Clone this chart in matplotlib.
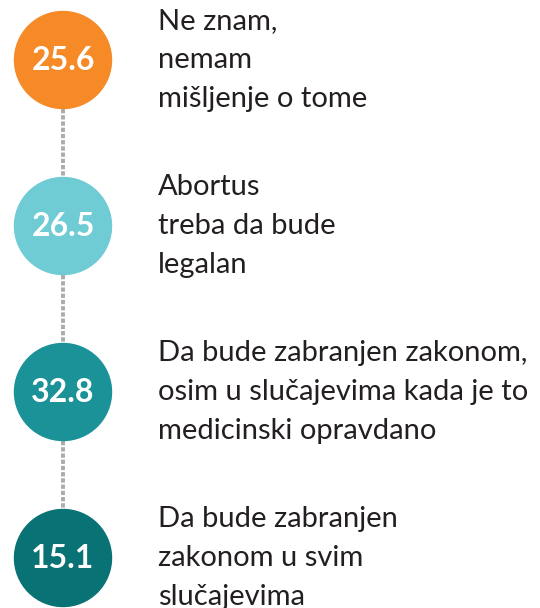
import matplotlib
matplotlib.use("Agg")
import matplotlib.pyplot as plt
from matplotlib.patches import Circle

# vrijednosti (%) i opisi, odozgo prema dolje
values = [25.6, 26.5, 32.8, 15.1]
labels = [
    ["Ne znam,", "nemam", "mišljenje o tome"],
    ["Abortus", "treba da bude", "legalan"],
    ["Da bude zabranjen zakonom,", "osim u slučajevima kada je to", "medicinski opravdano"],
    ["Da bude zabranjen", "zakonom u svim", "slučajevima"],
]
colors = ["#F58A27", "#6FCBD4", "#1B9297", "#087274"]

W, H = 540, 608
fig = plt.figure(figsize=(W / 100, H / 100), dpi=100)
ax = fig.add_axes([0, 0, 1, 1])
ax.set_xlim(0, W)
ax.set_ylim(H, 0)
ax.axis("off")

cx = 63
r = 48.5
y0, step = 60, 166
line_gap = 39
font = ["Lato", "DejaVu Sans"]

centers = [y0 + i * step for i in range(len(values))]

# isprekidana linija između krugova
for a, b in zip(centers[:-1], centers[1:]):
    ax.plot([cx, cx], [a + r, b - r], color="#ABABAB", lw=2.8,
            ls=(0, (1.1, 0.5)), solid_capstyle="butt", zorder=1)

for cy, v, lines, c in zip(centers, values, labels, colors):
    ax.add_patch(Circle((cx, cy), r, color=c, zorder=2))
    ax.text(cx, cy + 1, f"{v:.1f}", color="white", fontsize=23, fontweight="bold",
            family=font, ha="center", va="center", zorder=3)
    for i, txt in enumerate(lines):
        ax.text(158, cy + (i - 1) * line_gap + 8, txt, color="#231F20", fontsize=21,
                family=font, ha="left", va="baseline")

fig.savefig("out.png", dpi=100)
